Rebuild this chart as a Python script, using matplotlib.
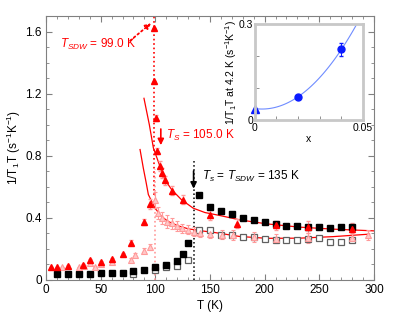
import matplotlib
matplotlib.use("Agg")
import matplotlib.pyplot as plt
import numpy as np
from matplotlib.ticker import MultipleLocator

plt.rcParams['font.family'] = ['Liberation Sans', 'DejaVu Sans']
plt.rcParams['mathtext.fontset'] = 'custom'
plt.rcParams['mathtext.rm'] = 'Liberation Sans'
plt.rcParams['mathtext.it'] = 'Liberation Sans:italic'

# transition temperatures (K)
T_SDW_LOW = 99.0
T_S_LOW = 105.0
T_S_HIGH = 135.0

# x = 0.02 sample, filled triangles
tri_T = [4.2, 10, 20, 33.5, 40, 50, 60, 70, 77.5, 90, 95, 99, 99, 100.6, 101.5,
         104.3, 105.8, 108.8, 115, 125, 150, 175, 210, 240, 280]
tri_y = [0.08, 0.08, 0.09, 0.095, 0.126, 0.113, 0.132, 0.164, 0.241, 0.375, 0.49,
         1.625, 1.284, 1.043, 0.83, 0.733, 0.688, 0.642, 0.576, 0.516, 0.419,
         0.362, 0.352, 0.342, 0.329]
tri_err = [0.006, 0.006, 0.006, 0.008, 0.01, 0.01, 0.01, 0.01, 0.015, 0.02, 0.03,
           0.0, 0.0, 0.02, 0.02, 0.03, 0.03, 0.03, 0.03, 0.03, 0.03,
           0.03, 0.03, 0.04, 0.035]

# x = 0.02 sample, light triangles
ptri_T = [15, 30, 35, 40, 45, 50, 60, 77.5, 81, 89.6, 95, 99.7, 102.7, 105.8,
          110.4, 115, 119.5, 124, 130, 135, 141, 150, 161, 171, 190, 210, 240,
          280, 295]
ptri_y = [0.08, 0.08, 0.09, 0.11, 0.086, 0.104, 0.113, 0.129, 0.16, 0.189, 0.213,
          0.516, 0.43, 0.40, 0.376, 0.366, 0.348, 0.333, 0.323, 0.31, 0.305,
          0.298, 0.292, 0.29, 0.276, 0.266, 0.27, 0.273, 0.29]
ptri_err = [0.005, 0.005, 0.006, 0.008, 0.006, 0.008, 0.008, 0.01, 0.012, 0.015,
            0.02, 0.05, 0.04, 0.04, 0.04, 0.035, 0.03, 0.03, 0.03, 0.03, 0.03,
            0.03, 0.03, 0.03, 0.03, 0.03, 0.03, 0.03, 0.03]

# parent compound, filled squares
sq_T = [10, 20, 30, 40, 50, 60, 70, 80, 90, 100, 110, 120, 125, 130, 140, 150,
        160, 170, 180, 190, 200, 210, 220, 230, 240, 250, 260, 270, 280]
sq_y = [0.04, 0.04, 0.04, 0.04, 0.042, 0.043, 0.047, 0.058, 0.064, 0.082, 0.098,
        0.125, 0.169, 0.236, 0.544, 0.469, 0.441, 0.424, 0.398, 0.383, 0.37,
        0.359, 0.348, 0.348, 0.341, 0.344, 0.335, 0.344, 0.341]

# parent compound, open squares
osq_T = [80, 100, 110, 120, 130, 140, 150, 160, 170, 180, 190, 200, 210, 220,
         230, 240, 250, 260, 270, 280]
osq_y = [0.04, 0.062, 0.082, 0.09, 0.131, 0.323, 0.323, 0.29, 0.29, 0.274,
         0.276, 0.265, 0.26, 0.254, 0.26, 0.265, 0.269, 0.247, 0.247, 0.254]

# fit lines
fit1_T = [89.6, 94.5, 98.2, 104.3, 108.8, 115, 124, 134.7, 145.4, 159, 177,
          202, 232, 263, 300]
fit1_y = [1.17, 1.0, 0.85, 0.73, 0.645, 0.581, 0.516, 0.462, 0.434, 0.415,
          0.387, 0.361, 0.34, 0.327, 0.316]
fit2_T = [86, 89, 91.5, 93.6, 99.7, 105.8, 111.9, 121, 130.2, 142.4, 154.6,
          177, 202, 232, 263, 296]
fit2_y = [0.84, 0.72, 0.63, 0.55, 0.462, 0.408, 0.376, 0.348, 0.329, 0.316,
          0.305, 0.28, 0.268, 0.269, 0.279, 0.295]

# inset: 1/T1T at 4.2 K versus x
ins_x = [0.0, 0.02, 0.04]
ins_y = [0.036, 0.073, 0.221]
ins_err = [0.0, 0.004, 0.02]

RED = '#ff0000'
PINK = '#ff9a9a'
GREY = '#808080'

fig = plt.figure(figsize=(4.15, 3.21), dpi=100)
ax = fig.add_axes([0.111, 0.128, 0.790, 0.822])

ax.axvline(T_SDW_LOW, ymin=0.32, ymax=1.0, color=RED, ls=':', lw=1.2)
ax.axvline(T_SDW_LOW + 0.7, ymin=0.0, ymax=0.42, color=PINK, ls=':', lw=1.2)
ax.axvline(T_S_HIGH, ymin=0.0, ymax=0.45, color='black', ls=':', lw=1.1)

ax.plot(fit1_T, fit1_y, color=RED, lw=0.9)
ax.plot(fit2_T, fit2_y, color=RED, lw=0.9)

ax.errorbar(ptri_T, ptri_y, yerr=ptri_err, fmt='^', ms=4, mfc='#ffc8c8',
            mec=PINK, mew=0.8, ecolor=PINK, elinewidth=0.8, capsize=1.5)
ax.errorbar(tri_T, tri_y, yerr=tri_err, fmt='^', ms=5, color=RED,
            ecolor=PINK, elinewidth=0.8, capsize=1.5)
ax.plot(osq_T, osq_y, 's', ms=4.5, mfc='white', mec='#606060', mew=0.9)
ax.plot(sq_T, sq_y, 's', ms=5, color='black')

ax.set_xlim(0, 300)
ax.set_ylim(0, 1.7)
ax.xaxis.set_major_locator(MultipleLocator(50))
ax.xaxis.set_minor_locator(MultipleLocator(10))
ax.yaxis.set_minor_locator(MultipleLocator(0.1))
ax.set_yticks([0, 0.4, 0.8, 1.2, 1.6])
ax.set_yticklabels(['0', '0.4', '0.8', '1.2', '1.6'])
ax.tick_params(which='both', direction='in', top=True, right=True,
               labelsize=8.5, color=GREY, pad=3)
ax.tick_params(which='major', length=4)
ax.tick_params(which='minor', length=2.5)
for s in ax.spines.values():
    s.set_color(GREY)

ax.set_xlabel('T (K)', fontsize=8.5, labelpad=3)
ax.set_ylabel('1/T$_1$T (s$^{-1}$K$^{-1}$)', fontsize=8.5, labelpad=2)

# annotations
ax.text(13, 1.52, '$T_{SDW}$ = 99.0 K', color=RED, fontsize=8.5, va='center')
ax.annotate('', xy=(T_SDW_LOW - 1, 1.665), xytext=(75, 1.53),
            arrowprops=dict(arrowstyle='-|>', color=RED, lw=1.3, ls=':',
                            mutation_scale=8))
ax.text(T_S_LOW + 5, 0.93, '$T_S$ = 105.0 K', color=RED, fontsize=8.5,
        va='center')
ax.annotate('', xy=(T_S_LOW, 0.85), xytext=(T_S_LOW, 0.99),
            arrowprops=dict(arrowstyle='-|>', color=RED, lw=1.2,
                            mutation_scale=9))
ax.text(T_S_HIGH + 8, 0.665, '$T_s$ = $T_{SDW}$ = 135 K', color='black',
        fontsize=8.5, va='center')
ax.annotate('', xy=(T_S_HIGH, 0.57), xytext=(T_S_HIGH, 0.72),
            arrowprops=dict(arrowstyle='-|>', color='black', lw=1.2,
                            mutation_scale=9))

# inset
ins = fig.add_axes([0.614, 0.626, 0.261, 0.299])
xf = np.linspace(0, 0.05, 100)
coef = np.polyfit(ins_x, ins_y, 2)
ins.plot(xf, np.polyval(coef, xf), color='#6f8cff', lw=0.8)
ins.errorbar(ins_x[1:], ins_y[1:], yerr=ins_err[1:], fmt='o', ms=5,
             color='#0a1aff', ecolor='#0a1aff', elinewidth=0.7, capsize=1.5)
ins.plot(ins_x[:1], ins_y[:1], '^', ms=6, color='#0a1aff', clip_on=False)
ins.set_xlim(0, 0.05)
ins.set_ylim(0, 0.3)
ins.set_xticks([0, 0.05])
ins.set_xticklabels(['0', '0.05'])
ins.set_yticks([0, 0.3])
ins.set_yticklabels(['0', '0.3'])
ins.xaxis.set_minor_locator(MultipleLocator(0.01))
ins.yaxis.set_minor_locator(MultipleLocator(0.1))
ins.tick_params(which='both', direction='in', labelsize=7.5, color=GREY, pad=1)
ins.tick_params(axis='x', pad=2)
ins.tick_params(which='major', length=0)
ins.tick_params(which='minor', length=3)
for s in ins.spines.values():
    s.set_color('#c8c8c8')
    s.set_linewidth(2)
ins.set_xlabel('x', fontsize=7.5, labelpad=1)
ins.set_ylabel('1/T$_1$T at 4.2 K (s$^{-1}$K$^{-1}$)', fontsize=7.5, labelpad=0)

fig.savefig('out.png', dpi=100)
